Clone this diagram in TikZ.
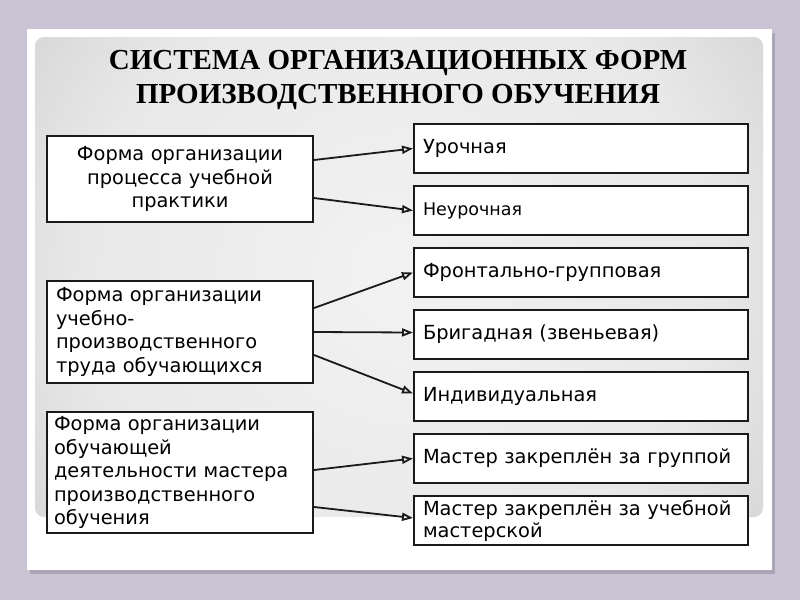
\documentclass[tikz,border=0pt]{standalone}
\usepackage{fontspec}
\setmainfont{DejaVu Sans}
\newfontfamily\titlefont{Liberation Serif}
\usepackage{xcolor}
\usetikzlibrary{arrows.meta,calc}

\definecolor{lavender}{HTML}{C9C3D4}
\definecolor{cardshadow}{HTML}{ABA6B6}
\definecolor{inkline}{HTML}{1A1A1A}
\pgfdeclareradialshading{panelshade}{\pgfpoint{0bp}{0bp}}{%
  color(0bp)=(white!95!black); color(18bp)=(white!91!black);
  color(27bp)=(white!83!black); color(37bp)=(white!70!black);
  color(43bp)=(white!64!black); color(50bp)=(white!58!black)}

\begin{document}
\begin{tikzpicture}[
    x=1pt, y=-1pt,
    >={Triangle[open,length=11pt,width=8pt]},
    font=\fontsize{19.4}{23.5}\selectfont,
    lbox/.style={
        draw=inkline,
        line width=2pt,
        fill=white,
        minimum width=266pt,
        inner xsep=9pt,
        text width=248pt
    },
    rbox/.style={
        draw=inkline,
        line width=2pt,
        fill=white,
        minimum height=49pt,
        inner xsep=9pt,
        text width=316pt,
        align=left
    },
    arr/.style={->, line width=1.8pt, draw=inkline}
]

\useasboundingbox (0,0) rectangle (800,600);
\fill[lavender] (0,0) rectangle (800,600);

% slide card and shaded panel
\fill[cardshadow] (30,33) rectangle (775,574);
\fill[white] (27,29) rectangle (772,570);
\begin{scope}
    \clip[rounded corners=9pt] (35,37) rectangle (763,517);
    \shade[shading=panelshade] (399,277) circle[radius=440pt];
\end{scope}

\node[align=center, text=black,
      font=\titlefont\bfseries\fontsize{29}{34}\selectfont] (title) at (398,80)
{СИСТЕМА ОРГАНИЗАЦИОННЫХ ФОРМ\\
ПРОИЗВОДСТВЕННОГО ОБУЧЕНИЯ};

% left column
\node[lbox, minimum height=86pt, align=center] (practice) at (180,179)
{Форма организации\\процесса учебной\\практики};

\node[lbox, minimum height=102pt, align=left] (labour) at (180,332)
{Форма организации\\учебно-\\производственного\\труда обучающихся};

\node[lbox, minimum height=121pt, align=left, inner xsep=7pt, text width=252pt] (master) at (180,472.5)
{Форма организации\\обучающей\\деятельности мастера\\производственного\\обучения};

% right column
\node[rbox] (lesson)   at (581,148.5) {Урочная};
\node[rbox, font=\fontsize{17.5}{21}\selectfont] (extra) at (581,210.5) {Неурочная};
\node[rbox] (frontal)  at (581,272.5) {Фронтально-групповая};
\node[rbox] (brigade)  at (581,334.5) {Бригадная (звеньевая)};
\node[rbox] (single)   at (581,396.5) {Индивидуальная};
\node[rbox] (group)    at (581,458.5) {Мастер закреплён за группой};
\node[rbox, font=\fontsize{19.4}{22}\selectfont] (workshop) at (581,520.5)
{Мастер закреплён за учебной\\мастерской};

\draw[arr] ([yshift=19pt]practice.east) -- (lesson.west);
\draw[arr] ([yshift=-19pt]practice.east) -- (extra.west);
\draw[arr] ([yshift=24pt]labour.east) -- (frontal.west);
\draw[arr] (labour.east) -- ([yshift=2pt]brigade.west);
\draw[arr] ([yshift=-23pt]labour.east) -- ([yshift=3pt]single.west);
\draw[arr] ([yshift=2.5pt]master.east) -- (group.west);
\draw[arr] ([yshift=-34.5pt]master.east) -- ([yshift=2.5pt]workshop.west);

\end{tikzpicture}
\end{document}
